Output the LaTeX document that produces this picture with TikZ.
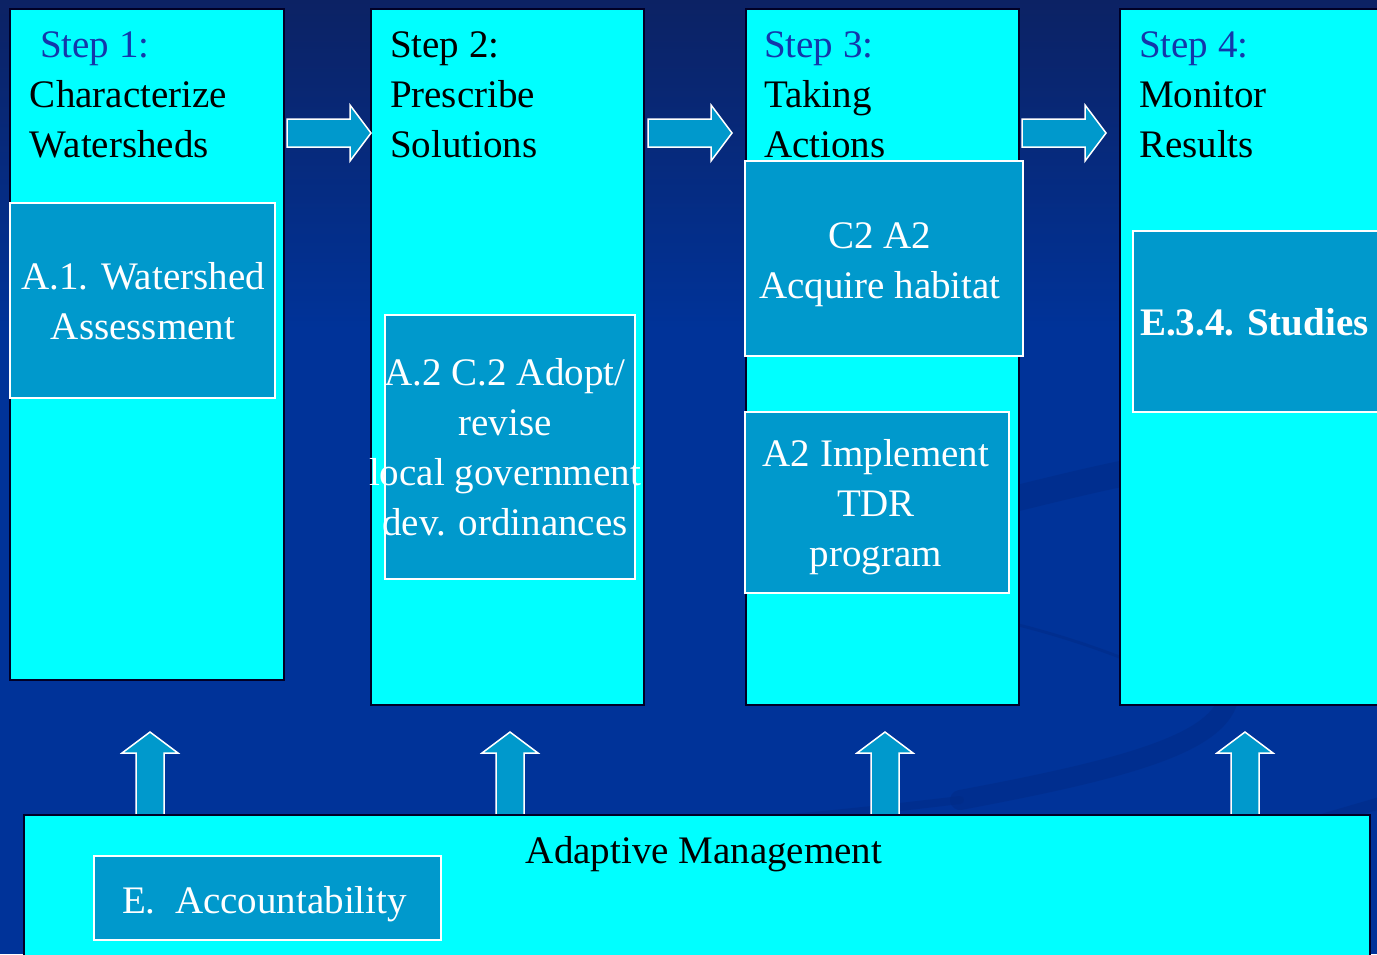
\documentclass[tikz,border=0pt]{standalone}
\usepackage{fontspec}
\setmainfont{Liberation Serif}
\definecolor{bgblue}{RGB}{0,51,153}
\definecolor{bgtop}{RGB}{12,34,100}
\definecolor{swooshc}{RGB}{0,43,135}
\definecolor{cyanbox}{RGB}{0,255,255}
\definecolor{innerbox}{RGB}{0,153,204}
\definecolor{stepblue}{RGB}{20,55,170}
\tikzset{
  colbox/.style={draw=black!85!blue, line width=2pt, fill=cyanbox, anchor=north west, inner sep=0pt, outer sep=0pt},
  innbox/.style={draw=white, line width=1.5pt, fill=innerbox, anchor=north west, inner sep=0pt, outer sep=0pt},
  bigtxt/.style={font=\fontsize{39}{50}\selectfont, inner sep=0pt, outer sep=0pt},
  steplabel/.style={bigtxt, text=stepblue, anchor=base west},
  titletxt/.style={bigtxt, text=black, anchor=base west, align=left},
  whitetxt/.style={bigtxt, text=white, anchor=base, align=center},
  blockarr/.style={fill=innerbox, draw=white, line width=1.5pt, line join=miter},
  blockarrow/.pic={\draw[blockarr] (0,0) -- (-21,28) -- (-21,14) -- (-84,14) -- (-84,-14) -- (-21,-14) -- (-21,-28) -- cycle;},
  swoosh/.style={draw=swooshc, opacity=0.55, line cap=round}
}
\begin{document}
\begin{tikzpicture}[x=1pt,y=-1pt]
\useasboundingbox (0,0) rectangle (1377,954);
\clip (0,0) rectangle (1377,954);
% background
\fill[bgblue] (0,0) rectangle (1377,954);
\shade[top color=bgtop, bottom color=bgblue] (0,0) rectangle (1377,330);
\draw[swoosh, line width=26pt] (990,505) .. controls (1050,490) and (1090,480) .. (1140,470);
\draw[swoosh, line width=3pt] (990,618) .. controls (1050,632) and (1090,645) .. (1140,665);
\draw[swoosh, line width=20pt] (960,800) .. controls (1120,770) and (1215,745) .. (1228,700);
\draw[swoosh, line width=12pt] (1290,830) .. controls (1320,820) and (1350,812) .. (1390,800);
\draw[swoosh, line width=8pt] (640,830) .. controls (760,822) and (860,812) .. (960,800);

% step columns
\node[colbox, minimum width=274pt, minimum height=671pt] (col1) at (10,9) {};
\node[colbox, minimum width=273pt, minimum height=696pt] (col2) at (371,9) {};
\node[colbox, minimum width=273pt, minimum height=696pt] (col3) at (746,9) {};
\node[colbox, minimum width=300pt, minimum height=696pt] (col4) at (1120,9) {};

% step headings (multi-line nodes: base = baseline of last line)
\node[steplabel] (s1) at (40,57) {Step 1:};
\node[titletxt] (t1) at (30,157) {Characterize\\Watersheds};
\node[steplabel, text=black] (s2) at (390,57) {Step 2:};
\node[titletxt] (t2) at (390,157) {Prescribe\\Solutions};
\node[steplabel] (s3) at (764,57) {Step 3:};
\node[titletxt] (t3) at (764,157) {Taking\\Actions};
\node[steplabel] (s4) at (1139,57) {Step 4:};
\node[titletxt] (t4) at (1139,157) {Monitor\\Results};

% inner action boxes
\node[innbox, minimum width=265pt, minimum height=195pt] (a1) at (10,203) {};
\node[whitetxt] (a1t) at (143,339) {A.1. Watershed\\Assessment};
\node[innbox, minimum width=250pt, minimum height=264pt] (a2) at (385,315) {};
\node[whitetxt] (a2t) at (505,535) {A.2 C.2 Adopt/\\revise\\local government\\dev. ordinances};
\node[innbox, minimum width=278pt, minimum height=195pt] (c2) at (745,161) {};
\node[whitetxt] (c2t) at (880,298) {C2 A2\\Acquire habitat};
\node[innbox, minimum width=264pt, minimum height=181pt] (im) at (745,412) {};
\node[whitetxt] (imt) at (876,566) {A2 Implement\\TDR\\program};
\node[innbox, minimum width=300pt, minimum height=181pt] (e34) at (1133,231) {};
\node[bigtxt, text=white, anchor=base west, font=\fontsize{39}{50}\selectfont\bfseries] (e34t) at (1140,335) {E.3.4. Studies};

% right arrows between steps
\pic at (371,133) {blockarrow};
\pic at (732,133) {blockarrow};
\pic at (1106,133) {blockarrow};

% up arrows from adaptive management
\pic[rotate=90] at (150,732) {blockarrow};
\pic[rotate=90] at (510,732) {blockarrow};
\pic[rotate=90] at (885,732) {blockarrow};
\pic[rotate=90] at (1245,732) {blockarrow};

% adaptive management
\node[colbox, minimum width=1346pt, minimum height=200pt] (am) at (24,815) {};
\node[bigtxt, anchor=base] (amt) at (704,863) {Adaptive Management};
\node[innbox, minimum width=347pt, minimum height=84pt] (ea) at (94,856) {};
\node[bigtxt, text=white, anchor=base west] (eat) at (122,913) {E.\ \ Accountability};
\end{tikzpicture}
\end{document}
